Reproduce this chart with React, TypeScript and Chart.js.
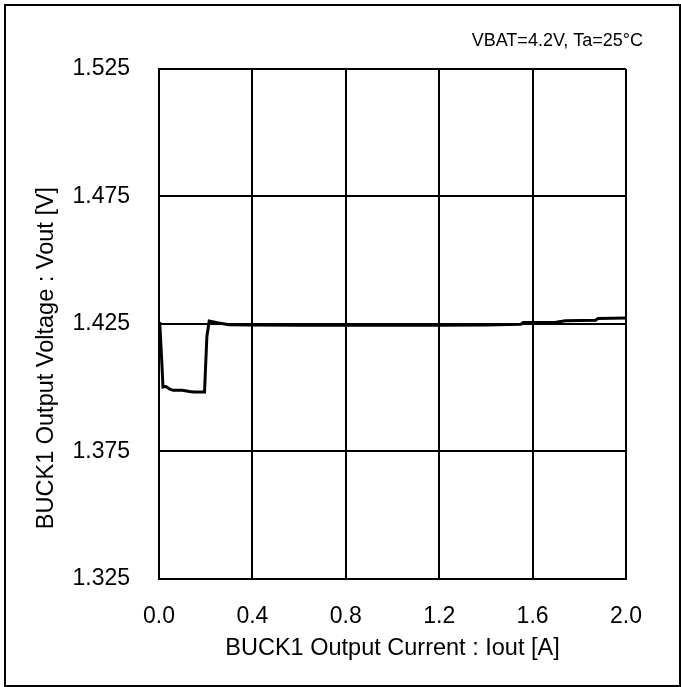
import React, { useEffect, useRef } from "react";
import { Chart, registerables } from "chart.js";

Chart.register(...registerables);

const currentA = [0.0, 0.004, 0.012, 0.017, 0.03, 0.045, 0.06, 0.1, 0.13, 0.15, 0.195, 0.198, 0.205, 0.215, 0.25, 0.3, 0.4, 0.6, 0.8, 1.0, 1.2, 1.4, 1.55, 1.56, 1.7, 1.74, 1.87, 1.88, 2.0];
const voltageV = [1.4258, 1.424, 1.41, 1.4003, 1.4005, 1.3995, 1.399, 1.399, 1.3985, 1.3983, 1.3983, 1.405, 1.42, 1.4262, 1.4255, 1.4247, 1.4246, 1.4245, 1.4245, 1.4245, 1.4245, 1.4246, 1.4249, 1.4256, 1.4257, 1.4263, 1.4265, 1.4272, 1.4274];
const xTicks = [0, 0.4, 0.8, 1.2, 1.6, 2.0];
const yTicks = [1.325, 1.375, 1.425, 1.475, 1.525];
const xTitle = "BUCK1 Output Current : Iout [A]";
const yTitle = "BUCK1 Output Voltage : Vout [V]";
const note = "VBAT=4.2V, Ta=25°C";

const FONT = "'Liberation Sans', Arial, Helvetica, sans-serif";

const textPlugin = {
  id: "extraText",
  afterDraw(chart: any) {
    const ctx = chart.ctx;
    ctx.save();
    ctx.fillStyle = "#000";
    ctx.font = `23.5px ${FONT}`;
    ctx.translate(47, 358);
    ctx.rotate(-Math.PI / 2);
    ctx.textAlign = "center";
    ctx.textBaseline = "middle";
    ctx.fillText(yTitle, 0, 0);
    ctx.restore();
    ctx.save();
    ctx.fillStyle = "#000";
    ctx.font = `18px ${FONT}`;
    ctx.textAlign = "right";
    ctx.textBaseline = "alphabetic";
    ctx.fillText(note, 643, 46);
    ctx.restore();
  },
};

export default function App() {
  const ref = useRef<HTMLCanvasElement>(null);
  useEffect(() => {
    if (!ref.current) return;
    const data = currentA.map((x, i) => ({ x, y: voltageV[i] }));
    const chart = new Chart(ref.current, {
      type: "line",
      data: {
        datasets: [
          {
            data,
            borderColor: "#000",
            borderWidth: 3,
            pointRadius: 0,
            fill: false,
            tension: 0,
          },
        ],
      },
      options: {
        responsive: false,
        animation: false,
        devicePixelRatio: 1,
        layout: { padding: { top: 69, right: 55, left: 0, bottom: 0 } },
        plugins: { legend: { display: false }, tooltip: { enabled: false } },
        scales: {
          x: {
            type: "linear",
            min: 0,
            max: 2,
            afterFit: (s: any) => {
              s.height = 108;
            },
            afterBuildTicks: (s: any) => {
              s.ticks = xTicks.map((v) => ({ value: v }));
            },
            grid: { color: "#000", lineWidth: 2, drawTicks: false },
            border: { display: true, color: "#000", width: 2 },
            ticks: {
              padding: 24,
              color: "#000",
              font: { family: FONT, size: 23 },
              maxRotation: 0,
              callback: (v: any) => Number(v).toFixed(1),
            },
            title: {
              display: true,
              text: xTitle,
              color: "#000",
              font: { family: FONT, size: 23.5 },
              padding: { top: 0, bottom: 24 },
            },
          },
          y: {
            type: "linear",
            min: 1.325,
            max: 1.525,
            afterFit: (s: any) => {
              s.width = 159;
            },
            afterBuildTicks: (s: any) => {
              s.ticks = yTicks.map((v) => ({ value: v }));
            },
            grid: { color: "#000", lineWidth: 2, drawTicks: false },
            border: { display: true, color: "#000", width: 2 },
            ticks: {
              padding: 29,
              color: "#000",
              font: { family: FONT, size: 23 },
              callback: (v: any) => Number(v).toFixed(3),
            },
          },
        },
      },
      plugins: [textPlugin],
    });
    return () => chart.destroy();
  }, []);
  return (
    <>
      <div
        style={{
          position: "absolute",
          left: 4,
          top: 4,
          width: 677,
          height: 683,
          border: "2px solid #000",
          boxSizing: "border-box",
          background: "#fff",
        }}
      />
      <canvas
        ref={ref}
        width={681}
        height={687}
        style={{ position: "absolute", left: 0, top: 0, width: 681, height: 687 }}
      />
    </>
  );
}
